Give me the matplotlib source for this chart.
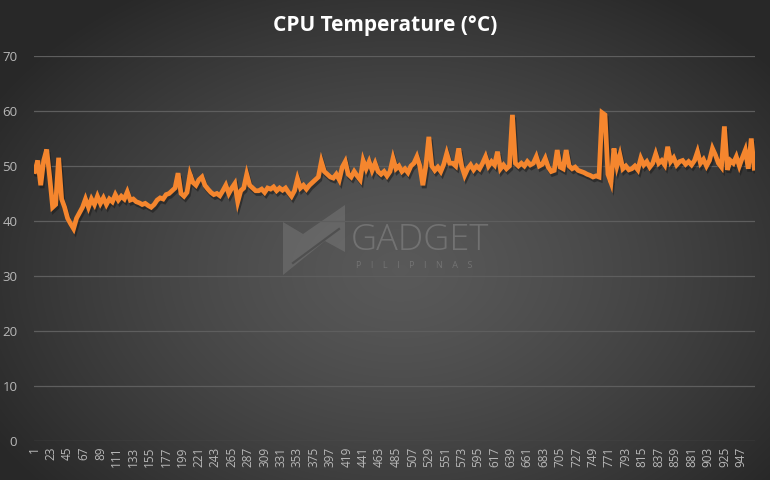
import numpy as np
import matplotlib
matplotlib.use('Agg')
import matplotlib.pyplot as plt
import matplotlib.patheffects as pe
from matplotlib.patches import Polygon

# CPU temperature, one value every 4 samples (sample 1 .. 965)
SAMPLE_STEP = 4
temps = [
    49.0, 51.0, 46.5, 51.0, 53.0, 48.0, 42.5, 43.0, 51.5, 44.0,
    42.5, 40.5, 39.5, 38.6, 40.5, 41.5, 42.5, 44.0, 42.5, 44.0,
    43.0, 44.5, 43.2, 44.2, 43.0, 44.0, 43.5, 44.8, 43.8, 44.5,
    44.0, 45.3, 43.8, 44.0, 43.5, 43.3, 43.0, 43.2, 42.8, 42.5,
    43.0, 43.8, 44.2, 44.0, 44.8, 45.0, 45.5, 46.0, 48.7, 45.0,
    44.5, 45.2, 48.5, 47.0, 46.5, 47.5, 48.0, 46.5, 45.8, 45.2,
    44.8, 45.0, 44.6, 45.5, 46.5, 45.0, 46.0, 46.8, 43.5, 45.5,
    46.0, 48.5, 46.5, 46.0, 45.5, 45.5, 45.8, 45.2, 46.0, 45.8,
    46.2, 45.5, 46.0, 45.6, 46.0, 45.2, 44.5, 45.5, 47.7, 46.0,
    46.5, 45.8, 46.5, 47.0, 47.5, 48.0, 50.8, 49.0, 48.5, 48.0,
    47.8, 48.5, 47.5, 49.8, 50.8, 48.5, 48.0, 49.0, 48.2, 47.5,
    51.0, 49.5, 50.8, 49.2, 50.5, 49.0, 48.5, 49.0, 48.2, 49.0,
    51.4, 49.5, 50.0, 49.0, 49.5, 48.8, 50.0, 50.5, 51.7, 50.0,
    46.5, 50.0, 55.3, 50.0, 49.2, 49.8, 49.0, 50.3, 52.3, 50.5,
    50.5, 50.0, 53.2, 50.0, 48.3, 49.5, 50.2, 49.3, 50.0, 49.5,
    50.5, 51.7, 50.0, 50.8, 50.2, 52.6, 49.5, 50.2, 49.5, 50.0,
    59.3, 50.5, 50.0, 50.5, 50.0, 50.8, 50.2, 50.5, 51.7, 50.0,
    50.3, 51.4, 49.8, 49.0, 49.2, 52.9, 49.8, 49.5, 52.9, 50.0,
    49.5, 49.8, 49.2, 49.0, 48.8, 48.5, 48.3, 48.0, 48.2, 48.0,
    59.7, 59.3, 48.5, 47.0, 53.2, 50.0, 52.0, 49.5, 50.0, 49.3,
    49.5, 50.0, 49.3, 51.4, 50.2, 50.8, 49.8, 50.5, 52.2, 50.5,
    51.0, 50.2, 53.5, 50.8, 51.5, 50.2, 50.8, 51.0, 50.3, 50.8,
    50.2, 51.0, 52.6, 50.5, 51.2, 50.0, 51.0, 53.2, 52.0, 50.5,
    49.8, 57.2, 49.3, 51.0, 50.5, 51.7, 50.0, 51.5, 52.9, 49.5,
    55.0, 49.6,
]
samples = np.arange(1, SAMPLE_STEP * len(temps), SAMPLE_STEP)

y_ticks = [0, 10, 20, 30, 40, 50, 60, 70]
x_ticks = list(range(1, 948, 22))

title = 'CPU Temperature (°C)'
W, H = 770, 480

fig = plt.figure(figsize=(W / 100, H / 100), dpi=100)

# radial gradient background
bg = fig.add_axes([0, 0, 1, 1], zorder=0)
yy, xx = np.mgrid[0:H, 0:W]
r = np.sqrt(((xx - 400) / 470.0) ** 2 + ((yy - 270) / 330.0) ** 2)
r = np.clip(r, 0, 1)
shade = 0.35 - 0.19 * r ** 1.3
bg.imshow(np.dstack([shade] * 3), extent=[0, W, H, 0], aspect='auto', interpolation='bilinear')
bg.set_xlim(0, W)
bg.set_ylim(H, 0)
bg.axis('off')

# watermark logo
logo = Polygon([(283, 222), (303, 234), (345, 205), (345, 252), (325, 241), (283, 275)],
               closed=True, facecolor='#8a8a8a', alpha=0.35, edgecolor='none')
bg.add_patch(logo)
bg.plot([293, 339], [263, 229], color='#4a4a4a', lw=1.6, alpha=0.8)
bg.text(351, 241, 'GADGET', fontsize=26, family='Open Sans', fontweight='light',
        color='#8a8a8a', alpha=0.55, va='center', ha='left')
bg.text(356, 265, 'P    I    L    I    P    I    N    A    S', fontsize=6.5, family='Open Sans',
        color='#8a8a8a', alpha=0.55, va='center', ha='left')

ax = fig.add_axes([34 / W, 1 - 441 / H, (755 - 34) / W, (441 - 56) / H], zorder=1)
ax.patch.set_alpha(0)

line, = ax.plot(samples, temps, color='#f5862e', lw=3.4, solid_joinstyle='miter')
line.set_path_effects([pe.SimpleLineShadow(offset=(1, -2), shadow_color='#1a1a1a', alpha=0.55),
                       pe.Normal()])

ax.set_ylim(0, 70)
ax.set_xlim(0, 966)
ax.set_yticks(y_ticks)
ax.set_xticks(x_ticks)
ax.set_xticklabels([str(t) for t in x_ticks], rotation=90)
ax.grid(axis='y', color='#5e5e5e', lw=0.9)
ax.set_axisbelow(True)
for s in ax.spines.values():
    s.set_visible(False)
ax.tick_params(axis='both', length=0, colors='#b8b8b8', labelsize=8.5)
ax.tick_params(axis='y', pad=12, labelsize=9.5)
ax.tick_params(axis='x', pad=4)
for lab in ax.get_xticklabels() + ax.get_yticklabels():
    lab.set_family('Open Sans')

fig.text(385 / W, 1 - 26 / H, title, ha='center', va='center', color='white',
         fontsize=15, fontweight='bold', family='Open Sans')

fig.savefig('out.png', dpi=100)
